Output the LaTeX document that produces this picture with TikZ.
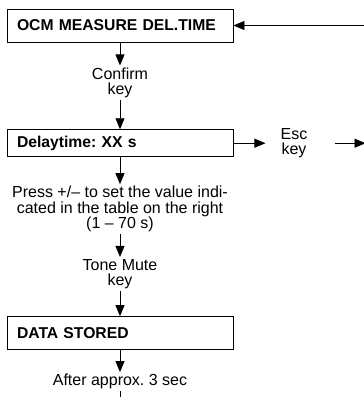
\documentclass[tikz,border=0pt]{standalone}
\usepackage{fontspec}
\setmainfont{Liberation Sans}
\frenchspacing
\usetikzlibrary{arrows.meta,positioning}
\tikzset{
  menu/.style={draw, line width=0.9pt, text width=206pt, inner xsep=10pt, align=left, font=\bfseries\fontsize{15.7}{15}\selectfont},
  keytext/.style={inner sep=2pt, align=center, font=\fontsize{16}{15.5}\selectfont},
  line/.style={-{Triangle[length=11pt,width=9pt]}, line width=0.8pt},
  plain/.style={line width=0.8pt}
}

\begin{document}
\begin{tikzpicture}
  \useasboundingbox (0,0) rectangle (364pt,-397pt);
  \node[menu, minimum height=33pt] (measure) at (120pt,-25.5pt) {OCM MEASURE DEL.TIME};
  \node[keytext, below=23pt of measure] (confirm) {Confirm\\key};
  \node[menu, minimum height=27pt, below=29pt of confirm] (delay) {Delaytime: XX s};
  \node[keytext, right=45pt of delay] (esc) {Esc\\key};
  \node[keytext, below=27pt of delay] (press) {Press +/– to set the value indi-\\cated in the table on the right\\(1 – 70 s)};
  \node[keytext, below=22.5pt of press] (mute) {Tone Mute\\key};
  \node[menu, minimum height=33pt, below=25pt of mute] (stored) {DATA STORED};
  \node[keytext, below=22pt of stored] (after) {After approx. 3 sec};

  \coordinate[right=131pt of measure.east] (entry);
  \coordinate[right=56pt of esc.east] (exit);
  \coordinate[below=10pt of after] (tail);

  \draw[line] (entry) -- (measure);
  \draw[line] (measure) -- (confirm);
  \draw[line] (confirm) -- (delay);
  \draw[line, shorten >=13pt] (delay) -- (esc);
  \draw[line, shorten <=25pt] (esc) -- (exit);
  \draw[line] (delay) -- (press);
  \draw[line] (press) -- (mute);
  \draw[line] (mute) -- (stored);
  \draw[line] (stored) -- (after);
  \draw[plain] (after) -- (tail);
\end{tikzpicture}
\end{document}
